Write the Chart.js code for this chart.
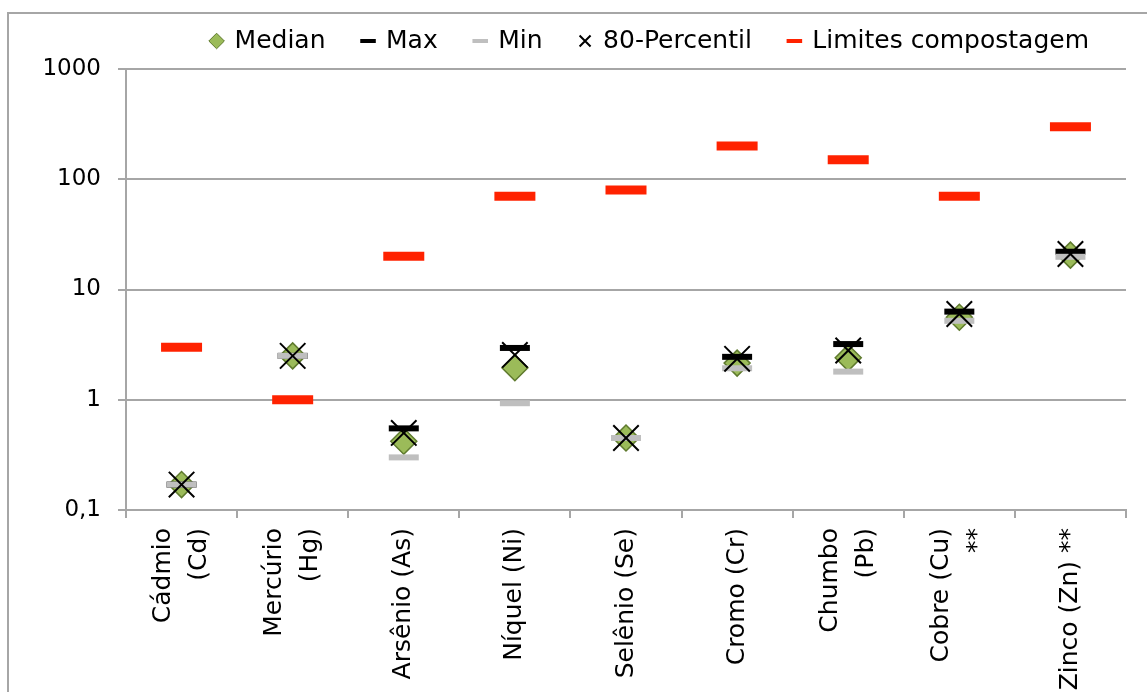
<!DOCTYPE html>
<html>
<head>
<meta charset="utf-8">
<script src="https://cdn.jsdelivr.net/npm/chart.js@4"></script>
<style>
  html, body { margin: 0; padding: 0; background: #fff; overflow: hidden; }
  #frame { position: absolute; left: 7px; top: 12px; width: 1200px; height: 760px;
           border: 2px solid #a6a6a6; box-sizing: border-box; }
  #wrap { position: absolute; left: 0; top: 0; width: 1147px; height: 692px; }
</style>
</head>
<body>
<div id="frame"></div>
<div id="wrap"><canvas id="chart"></canvas></div>
<script>
// Metal concentrations (mg/kg, log scale) and composting limits
const categories = [
  ['Cádmio', '(Cd)'], ['Mercúrio', '(Hg)'], 'Arsênio (As)', 'Níquel (Ni)',
  'Selênio (Se)', 'Cromo (Cr)', ['Chumbo', '(Pb)'], ['Cobre (Cu)', '**'], 'Zinco (Zn) **'
];
const medianValues      = [0.17, 2.5, 0.42, 1.95, 0.45, 2.15, 2.4, 5.6, 20.5];
const maxValues         = [0.17, 2.5, 0.55, 2.95, 0.45, 2.45, 3.2, 6.3, 22];
const minValues         = [0.17, 2.5, 0.30, 0.93, 0.45, 1.93, 1.8, 5.2, 19.8];
const percentil80Values = [0.17, 2.5, 0.50, 2.55, 0.45, 2.35, 2.8, 6.0, 21];
const compostLimits     = [3, 1, 20, 70, 80, 200, 150, 70, 300];
const yTickValues = [0.1, 1, 10, 100, 1000];
const yTickLabels = ['0,1', '1', '10', '100', '1000'];

const FONT = "'DejaVu Sans', sans-serif";
const GRID = '#a6a6a6';
const LABEL_LINE = 36;   // spacing between the two lines of a category label
Chart.defaults.font.family = FONT;
Chart.defaults.color = '#000';

function markerSet(label, data, order, style, radius, fill, stroke, width) {
  return {
    label, data, order, showLine: false,
    pointStyle: style, pointRadius: radius, pointHoverRadius: radius,
    pointBackgroundColor: fill, pointBorderColor: stroke, pointBorderWidth: width,
    pointHoverBorderWidth: width,
    backgroundColor: fill, borderColor: stroke
  };
}

const legendLineWidth = { rectRot: 1, line: 4, crossRot: 2 };

new Chart(document.getElementById('chart'), {
  type: 'line',
  data: {
    labels: categories,
    datasets: [
      markerSet('Median', medianValues, 5, 'rectRot', 13, '#9bbb59', '#5f7a2e', 1.5),
      markerSet('Max', maxValues, 4, 'line', 15, '#000000', '#000000', 6),
      markerSet('Min', minValues, 3, 'line', 15, '#bfbfbf', '#bfbfbf', 6),
      markerSet('80-Percentil', percentil80Values, 2, 'crossRot', 18, '#000000', '#000000', 2),
      markerSet('Limites compostagem', compostLimits, 1, 'line', 20.5, '#ff2200', '#ff2200', 9)
    ]
  },
  options: {
    responsive: true,
    maintainAspectRatio: false,
    animation: false,
    events: [],
    layout: { autoPadding: false, padding: { top: -8.5, left: 10, right: 21, bottom: 0 } },
    plugins: {
      tooltip: { enabled: false },
      legend: {
        position: 'top',
        align: 'end',
        labels: {
          usePointStyle: true,
          boxWidth: 11,
          boxHeight: 11,
          padding: 37,
          font: { size: 25 },
          sort: (a, b) => a.datasetIndex - b.datasetIndex,
          generateLabels(chart) {
            const items = Chart.defaults.plugins.legend.labels.generateLabels(chart);
            items.forEach(it => { it.lineWidth = legendLineWidth[it.pointStyle] || 1; });
            return items;
          }
        }
      },
      // thin empty band that separates the legend from the plot
      subtitle: {
        display: true, text: '', position: 'top', weight: 500,
        padding: 0, font: { size: 1, lineHeight: '5.5px' }
      }
    },
    scales: {
      x: {
        offset: true,
        grid: { offset: true, drawOnChartArea: false, drawTicks: true, tickLength: 8,
                color: GRID, lineWidth: 2 },
        border: { color: GRID, width: 2 },
        ticks: {
          autoSkip: false, maxRotation: 90, minRotation: 90, padding: 10,
          labelOffset: -LABEL_LINE / 2,
          // two-line names straddle the tick; one-line names get a blank lead line
          callback: (v, i) => Array.isArray(categories[i]) ? categories[i] : ['', categories[i]],
          font: (c) => ({ size: 25,
                          lineHeight: (Array.isArray(categories[c.index]) ? LABEL_LINE : LABEL_LINE / 2) + 'px' })
        },
        afterFit(scale) { scale.height = 182; scale.paddingLeft = 0; scale.paddingRight = 0; }
      },
      y: {
        type: 'logarithmic',
        min: 0.1,
        max: 1000,
        afterBuildTicks(scale) { scale.ticks = yTickValues.map(v => ({ value: v })); },
        grid: { color: GRID, lineWidth: 2, tickLength: 8 },
        border: { color: GRID, width: 2 },
        ticks: {
          padding: 17,
          font: { size: 23 },
          callback: (v) => yTickLabels[yTickValues.indexOf(v)]
        },
        afterFit(scale) { scale.width = 116; }
      }
    }
  }
});
</script>
</body>
</html>
